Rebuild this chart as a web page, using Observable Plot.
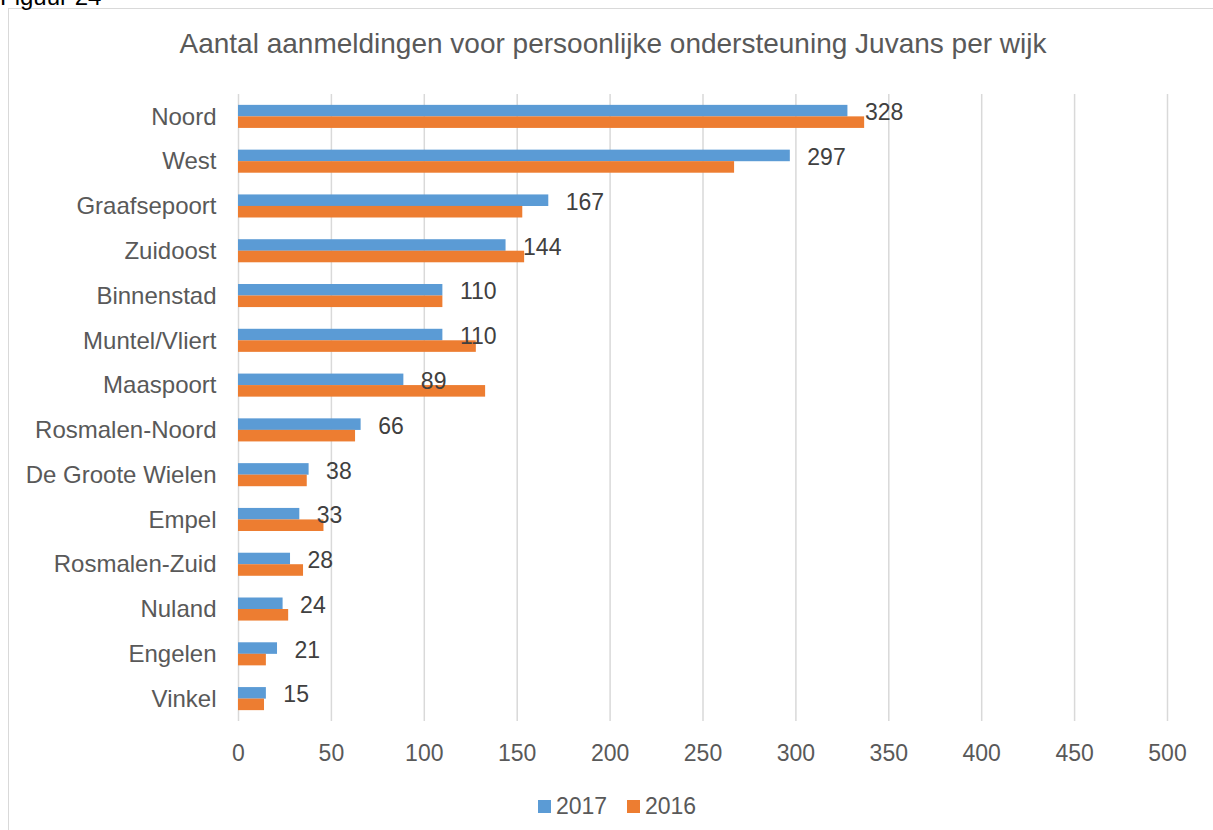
<!DOCTYPE html>
<html><head><meta charset="utf-8">
<script src="https://cdn.jsdelivr.net/npm/d3@7"></script>
<script src="https://cdn.jsdelivr.net/npm/@observablehq/plot@0.6"></script>
<style>
html,body{margin:0;padding:0;background:#fff;overflow:hidden;}
body{width:1213px;height:830px;position:relative;font-family:"Liberation Sans",Arial,sans-serif;}
#frame{position:absolute;left:8px;top:8px;width:1230px;height:840px;border:1.5px solid #D9D9D9;}
#fig{position:absolute;left:0;top:-15px;font-size:24px;line-height:1;color:#000;white-space:nowrap;}
#title{position:absolute;left:0;width:1226px;top:30px;text-align:center;font-size:28px;line-height:1;color:#595959;white-space:nowrap;}
#chart{position:absolute;left:0;top:0;}
.sw{position:absolute;width:13px;height:13px;top:800px;}
.lt{position:absolute;top:794.5px;font-size:23px;line-height:1;color:#595959;}
</style></head>
<body>
<div id="frame"></div>
<div id="fig">Figuur 24</div>
<div id="title">Aantal aanmeldingen voor persoonlijke ondersteuning Juvans per wijk</div>
<div id="chart"></div>
<div id="legend"></div>
<script>
const wijken = ["Noord","West","Graafsepoort","Zuidoost","Binnenstad","Muntel/Vliert","Maaspoort","Rosmalen-Noord","De Groote Wielen","Empel","Rosmalen-Zuid","Nuland","Engelen","Vinkel"];
const values2017 = [328,297,167,144,110,110,89,66,38,33,28,24,21,15];
const values2016 = [337,267,153,154,110,128,133,63,37,46,35,27,15,14];
const xTicks = [0,50,100,150,200,250,300,350,400,450,500];
const seriesNames = ["2017","2016"];
const seriesColors = ["#5B9BD5","#ED7D31"];

const d2017 = wijken.map((w,i)=>({wijk:w, value:values2017[i]}));
const d2016 = wijken.map((w,i)=>({wijk:w, value:values2016[i]}));

const chart = Plot.plot({
  width: 1213,
  height: 780,
  marginTop: 94,
  marginBottom: 59,
  marginLeft: 238,
  marginRight: 46,
  style: {background: "none", fontSize: "23px", fontFamily: "'Liberation Sans', Arial, sans-serif", overflow: "visible"},
  x: {domain: [0, 500]},
  y: {domain: wijken, paddingInner: 0.485, paddingOuter: 0.2425, round: false},
  marks: [
    Plot.gridX(xTicks, {stroke: "#D9D9D9", strokeOpacity: 1, strokeWidth: 1.5}),
    Plot.barX(d2017, {x: "value", y: "wijk", fill: seriesColors[0], insetBottom: 11.5}),
    Plot.barX(d2016, {x: "value", y: "wijk", fill: seriesColors[1], insetTop: 11.5}),
    Plot.text(d2017, {x: "value", y: "wijk", text: d => String(d.value), dx: 17, dy: -4, textAnchor: "start", fill: "#404040", fontSize: 23}),
    Plot.axisX({ticks: xTicks, tickSize: 0, tickPadding: 23, label: null, color: "#595959", fontSize: 23}),
    Plot.axisY({tickSize: 0, tickPadding: 22, label: null, color: "#595959", fontSize: 24})
  ]
});
document.getElementById("chart").appendChild(chart);

const legend = document.getElementById("legend");
const lefts = [538, 627];
seriesNames.forEach((n,i)=>{
  const s = document.createElement("div");
  s.className = "sw"; s.style.left = lefts[i] + "px"; s.style.background = seriesColors[i];
  legend.appendChild(s);
  const t = document.createElement("div");
  t.className = "lt"; t.style.left = (lefts[i] + 18) + "px"; t.textContent = n;
  legend.appendChild(t);
});
</script>
</body></html>
